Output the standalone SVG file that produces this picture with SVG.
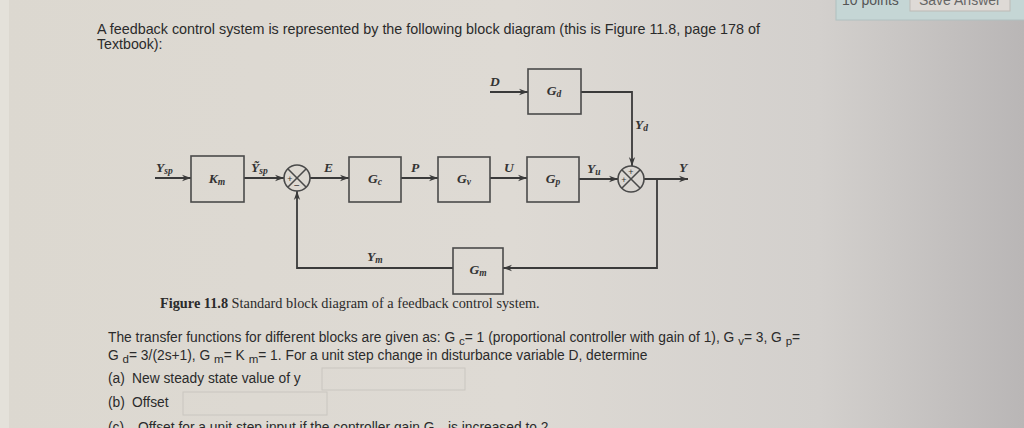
<svg xmlns="http://www.w3.org/2000/svg" width="1024" height="428" viewBox="0 0 1024 428">
<defs>
<linearGradient id="bg" x1="0" y1="0" x2="1" y2="0">
<stop offset="0" stop-color="#dcd8d0"/>
<stop offset="0.5" stop-color="#dedad4"/>
<stop offset="0.8" stop-color="#d3d0cd"/>
<stop offset="1" stop-color="#b9b6b6"/>
</linearGradient>
<marker id="ar" viewBox="0 0 10 10" refX="10" refY="5" markerWidth="9" markerHeight="9" markerUnits="userSpaceOnUse" orient="auto">
<path d="M0,1.5 L10,5 L0,8.5 L3,5 Z" fill="#3a3a3a"/>
</marker>
<style>
.blk{fill:none;stroke:#4a4a4a;stroke-width:1.6}
.ln{fill:none;stroke:#3a3a3a;stroke-width:1.8}
.sym{font-family:"Liberation Serif",serif;font-style:italic;font-weight:bold;fill:#333;font-size:13.5px}
.body{font-family:"Liberation Sans",Arial,sans-serif;fill:#2b2b2b;font-size:13.8px}
.head{font-family:"Liberation Sans",Arial,sans-serif;fill:#2b2b2b;font-size:14.2px}
.tb{font-family:"Liberation Sans",Arial,sans-serif;font-size:14px}
.cap{font-family:"Liberation Serif",serif;fill:#2b2b2b;font-size:14.3px}
.inp{fill:none;stroke:#c9c6c0;stroke-width:1}
</style>
</defs>
<rect x="0" y="0" width="1024" height="428" fill="url(#bg)"/>
<rect x="0" y="0" width="9" height="428" fill="#e4e1da"/>
<g id="toolbar">
<rect x="836" y="-4" width="192" height="24" fill="#c5d6d5" stroke="#b0c0c0"/>
<text x="842" y="5" class="tb" fill="#555">10 points</text>
<rect x="910" y="-6" width="100" height="17" fill="#dedad6" stroke="#bdbab6"/>
<text x="919" y="5" class="tb" fill="#666">Save Answer</text>
</g>
<text x="97" y="34" class="head" textLength="663" lengthAdjust="spacingAndGlyphs">A feedback control system is represented by the following block diagram (this is Figure 11.8, page 178 of</text>
<text x="97" y="49" class="head">Textbook):</text>

<g id="connectors">
<line class="ln" x1="155" y1="178" x2="191" y2="178" marker-end="url(#ar)"/>
<line class="ln" x1="244" y1="178" x2="284" y2="178" marker-end="url(#ar)"/>
<line class="ln" x1="310" y1="178" x2="349" y2="178" marker-end="url(#ar)"/>
<line class="ln" x1="401" y1="178" x2="438" y2="178" marker-end="url(#ar)"/>
<line class="ln" x1="490" y1="178" x2="527" y2="178" marker-end="url(#ar)"/>
<line class="ln" x1="490" y1="92" x2="528" y2="92" marker-end="url(#ar)"/>
<polyline class="ln" points="581,92 632,92 632,166" marker-end="url(#ar)"/>
<line class="ln" x1="579" y1="179" x2="618" y2="179" marker-end="url(#ar)"/>
<line class="ln" x1="644" y1="179" x2="688" y2="179" marker-end="url(#ar)"/>
<polyline class="ln" points="657,179 657,268 503,268" marker-end="url(#ar)"/>
<polyline class="ln" points="453,268 297,268 297,191" marker-end="url(#ar)"/>
</g>

<g id="Km"><rect class="blk" x="191" y="156" width="53" height="46"/><text x="217" y="183" class="sym" text-anchor="middle">K<tspan font-size="9.5" dy="2">m</tspan></text></g>
<g id="sum1"><circle cx="297" cy="178" r="13" class="blk"/><line class="blk" x1="288" y1="169" x2="306" y2="187"/><line class="blk" x1="306" y1="169" x2="288" y2="187"/>
<text x="290" y="182" font-family="Liberation Sans,sans-serif" font-size="9" fill="#333" text-anchor="middle">+</text>
<text x="297" y="189" font-family="Liberation Sans,sans-serif" font-size="10" fill="#333" text-anchor="middle">−</text></g>
<g id="Gc"><rect class="blk" x="349" y="157" width="52" height="45"/><text x="375" y="183" class="sym" text-anchor="middle">G<tspan font-size="9.5" dy="2">c</tspan></text></g>
<g id="Gv"><rect class="blk" x="438" y="157" width="52" height="45"/><text x="464" y="183" class="sym" text-anchor="middle">G<tspan font-size="9.5" dy="2">v</tspan></text></g>
<g id="Gp"><rect class="blk" x="527" y="157" width="52" height="45"/><text x="553" y="183" class="sym" text-anchor="middle">G<tspan font-size="9.5" dy="2">p</tspan></text></g>
<g id="Gd"><rect class="blk" x="528" y="69" width="53" height="45"/><text x="554" y="95" class="sym" text-anchor="middle">G<tspan font-size="9.5" dy="2">d</tspan></text></g>
<g id="sum2"><circle cx="631" cy="179" r="13" class="blk"/><line class="blk" x1="622" y1="170" x2="640" y2="188"/><line class="blk" x1="640" y1="170" x2="622" y2="188"/>
<text x="631" y="175" font-family="Liberation Sans,sans-serif" font-size="9" fill="#333" text-anchor="middle">+</text>
<text x="624" y="183" font-family="Liberation Sans,sans-serif" font-size="9" fill="#333" text-anchor="middle">+</text></g>
<g id="Gm"><rect class="blk" x="453" y="248" width="50" height="46"/><text x="478" y="274" class="sym" text-anchor="middle">G<tspan font-size="9.5" dy="2">m</tspan></text></g>

<g id="labels">
<text x="156" y="172" class="sym">Y<tspan font-size="9.5" dy="2">sp</tspan></text>
<text x="251" y="172" class="sym">Ỹ<tspan font-size="9.5" dy="2">sp</tspan></text>
<text x="324" y="172" class="sym">E</text>
<text x="411" y="172" class="sym">P</text>
<text x="504" y="172" class="sym">U</text>
<text x="490" y="86" class="sym">D</text>
<text x="635" y="129" class="sym">Y<tspan font-size="9.5" dy="2">d</tspan></text>
<text x="587" y="173" class="sym">Y<tspan font-size="9.5" dy="2">u</tspan></text>
<text x="679" y="172" class="sym">Y</text>
<text x="367" y="261" class="sym">Y<tspan font-size="9.5" dy="2">m</tspan></text>
</g>
<text x="160" y="308" class="cap"><tspan font-weight="bold">Figure 11.8</tspan>  Standard block diagram of a feedback control system.</text>

<text x="108" y="342" class="body">The transfer functions for different blocks are given as: G <tspan font-size="11.5" dy="3">c</tspan><tspan dy="-3">= 1 (proportional controller with gain of 1), G </tspan><tspan font-size="11.5" dy="3">v</tspan><tspan dy="-3">= 3, G </tspan><tspan font-size="11.5" dy="3">p</tspan><tspan dy="-3">=</tspan></text>
<text x="108" y="360" class="body">G <tspan font-size="11.5" dy="3">d</tspan><tspan dy="-3">= 3/(2s+1), G </tspan><tspan font-size="11.5" dy="3">m</tspan><tspan dy="-3">= K </tspan><tspan font-size="11.5" dy="3">m</tspan><tspan dy="-3">= 1. For a unit step change in disturbance variable D, determine</tspan></text>
<text x="108" y="383" class="body">(a) <tspan x="132">New steady state value of y</tspan></text>
<rect class="inp" x="322" y="368" width="143" height="22"/>
<text x="108" y="407" class="body">(b) <tspan x="132">Offset</tspan></text>
<rect class="inp" x="183" y="392" width="144" height="23"/>
<text x="108" y="432" class="body">(c) <tspan x="138">Offset for a unit step input if the controller gain G </tspan><tspan font-size="11.5" dy="3">c</tspan><tspan dy="-3"> is increased to 2</tspan></text>
</svg>
